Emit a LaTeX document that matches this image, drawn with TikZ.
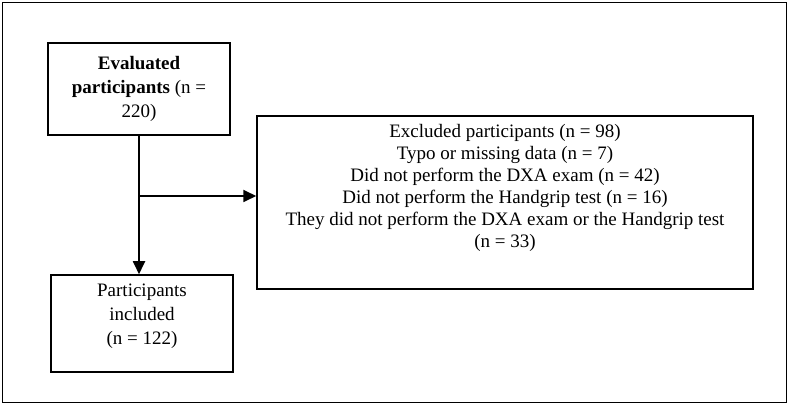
\documentclass[tikz,border=0pt]{standalone}
\usepackage{fontspec}
\setmainfont{Liberation Serif}
\usetikzlibrary{arrows.meta}
\begin{document}
\begin{tikzpicture}[x=1pt,y=-1pt,
  boxstyle/.style={draw,line width=1.5pt,inner sep=0pt,align=center,
    font=\fontsize{19}{24}\selectfont},
  txtstyle/.style={inner sep=0pt,align=center,font=\fontsize{19}{22}\selectfont},
  conn/.style={line width=1.8pt,-{Triangle[length=13pt,width=12pt]}}]
\useasboundingbox (0,0) rectangle (790,406);
\node[draw,line width=1.4pt,minimum width=784pt,minimum height=400pt] (frame) at (394.5,202.5) {};
\node[boxstyle,minimum width=182pt,minimum height=92pt] (eval) at (139,89)
  {\textbf{Evaluated}\\\textbf{participants} (n =\\220)};
\node[boxstyle,minimum width=182pt,minimum height=97pt] (incl) at (142,323.5)
  {Participants\\included\\ (n = 122)\\[-6pt]};
\node[boxstyle,minimum width=496pt,minimum height=173pt] (excl) at (505,202.5) {};
\node[txtstyle,anchor=north] (excltxt) at (505,124)
  {Excluded participants (n = 98)\\Typo or missing data (n = 7)\\Did not perform the DXA exam (n = 42)\\Did not perform the Handgrip test (n = 16)\\They did not perform the DXA exam or the Handgrip test\\(n = 33)};
\coordinate (br) at (eval.south |- 0,196);
\draw[conn] (eval.south) -- (eval.south |- incl.north);
\draw[conn] (br) -- (br -| excl.west);
\end{tikzpicture}
\end{document}
